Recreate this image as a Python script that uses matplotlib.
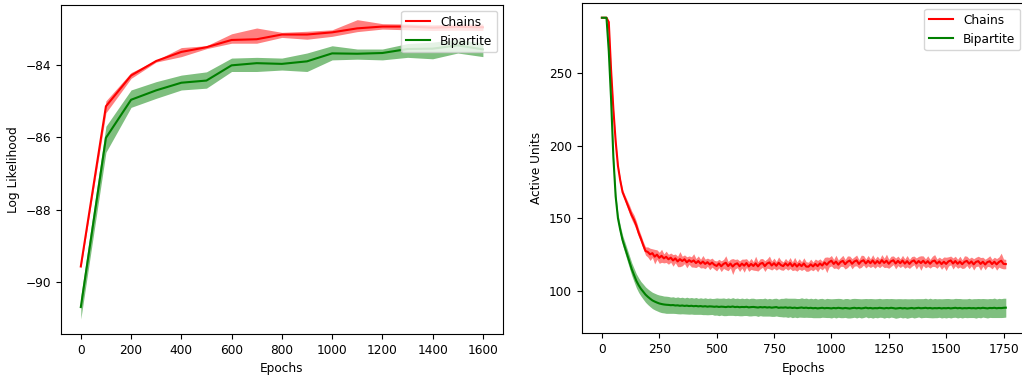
import matplotlib
matplotlib.use("Agg")
import matplotlib.pyplot as plt
import numpy as np

plt.rcParams['font.size'] = 8.7
plt.rcParams['font.family'] = ['DejaVu Sans']

# ---------------- Left panel: log likelihood ----------------
ll_epochs = [0, 100, 200, 300, 400, 500, 600, 700, 800, 900, 1000, 1100, 1200, 1300, 1400, 1500, 1600]

chains_ll = [-89.57, -85.15, -84.30, -83.90, -83.65, -83.52, -83.32, -83.30, -83.17, -83.17,
             -83.11, -83.00, -82.95, -82.95, -82.98, -82.96, -82.97]
chains_ll_hi = [-89.52, -85.00, -84.22, -83.88, -83.53, -83.48, -83.15, -82.99, -83.11, -83.08,
                -83.04, -82.76, -82.87, -82.88, -82.90, -82.88, -82.88]
chains_ll_lo = [-89.62, -85.33, -84.38, -83.93, -83.78, -83.56, -83.41, -83.41, -83.25, -83.30,
                -83.22, -83.09, -83.02, -83.04, -83.06, -83.05, -83.06]

bip_ll = [-90.69, -86.02, -84.97, -84.71, -84.50, -84.44, -84.02, -83.96, -83.98, -83.91,
          -83.69, -83.70, -83.68, -83.57, -83.56, -83.47, -83.58]
bip_ll_hi = [-90.40, -85.70, -84.70, -84.47, -84.29, -84.20, -83.82, -83.80, -83.82, -83.68,
             -83.48, -83.57, -83.57, -83.42, -83.38, -83.30, -83.41]
bip_ll_lo = [-91.02, -86.42, -85.18, -84.93, -84.70, -84.65, -84.19, -84.19, -84.15, -84.19,
             -83.87, -83.85, -83.87, -83.80, -83.84, -83.68, -83.78]

# ---------------- Right panel: active units ----------------
au_epochs = list(range(0, 1770, 10))

chains_au = [
    288, 288, 288, 285, 252, 225, 203, 186, 176, 168,
    164, 160, 156, 152, 149, 145, 140, 136, 131.5, 127.5,
    126.8, 125.2, 126.0, 123.6, 125.0, 122.8, 124.2, 122.4, 123.5, 121.8,
    122.9, 121.0, 122.4, 120.3, 121.9, 120.6, 121.8, 119.7, 121.2, 120.0,
    121.0, 119.2, 120.6, 118.8, 120.2, 118.6, 119.8, 118.2, 119.5, 118.0,
    117.2, 118.9, 117.0, 118.6, 119.4, 117.1, 118.8, 116.8, 118.4, 119.0,
    117.0, 118.8, 117.4, 119.2, 116.9, 118.6, 117.2, 119.0, 116.9, 118.7,
    119.3, 117.1, 118.9, 119.6, 117.5, 119.1, 117.3, 119.4, 117.8, 117.1,
    119.0, 117.4, 119.2, 117.0, 118.8, 116.8, 118.6, 117.1, 118.9, 116.8,
    116.7, 118.3, 116.9, 118.6, 117.1, 118.9, 117.5, 119.6, 118.0, 119.8,
    120.8, 118.6, 120.2, 118.1, 119.9, 120.7, 118.4, 120.1, 120.9, 118.7,
    120.3, 121.0, 118.6, 120.4, 121.1, 118.9, 120.8, 119.1, 121.0, 118.8,
    120.6, 119.0, 121.2, 119.3, 120.8, 118.7, 120.4, 121.1, 118.9, 120.7,
    119.1, 120.9, 118.8, 120.5, 118.6, 120.3, 121.0, 118.9, 120.6, 119.2,
    120.8, 119.0, 120.5, 118.7, 120.4, 120.9, 118.8, 120.3, 118.5, 120.1,
    118.6, 120.3, 121.0, 118.9, 120.6, 118.7, 120.2, 118.4, 120.0, 120.7,
    118.8, 120.3, 118.3, 120.0, 120.5, 118.6, 120.1, 118.2, 119.9, 120.4,
    118.5, 120.1, 118.3, 119.9, 120.8, 118.6, 118.5]

chains_au_sd = [
    0, 0, 0, 0.5, 1.0, 1.0, 1.2, 1.3, 1.5, 1.8,
    2.0, 2.5, 3.0, 3.0, 3.2, 3.0, 2.8, 2.5, 2.5, 2.8,
    3.5, 4.2, 3.0, 5.0, 3.3, 3.8, 4.5, 3.1, 3.9, 3.4,
    3.2, 4.0, 3.0, 3.6, 5.2, 3.3, 3.0, 3.8, 2.9, 3.5,
    4.6, 3.1, 3.5, 3.0, 4.2, 3.3, 2.8, 3.6, 3.1, 3.0,
    3.4, 2.9, 3.7, 3.1, 4.8, 3.2, 3.0, 5.5, 3.3, 3.0,
    3.6, 3.1, 4.5, 3.0, 3.4, 3.8, 2.9, 4.9, 3.2, 3.5,
    3.0, 3.7, 3.2, 4.4, 3.1, 3.5, 3.0, 4.0, 3.3, 2.9,
    3.4, 3.1, 3.8, 3.0, 4.3, 3.2, 3.6, 3.0, 3.9, 3.3,
    3.1, 3.6, 3.0, 3.4, 3.9, 3.2, 3.0, 3.5, 5.4, 3.3,
    3.6, 3.1, 4.4, 3.2, 3.0, 3.8, 3.3, 4.0, 3.1, 3.5,
    3.2, 3.7, 3.0, 4.2, 3.3, 3.1, 3.6, 3.0, 3.9, 3.2,
    3.4, 3.0, 3.8, 3.2, 4.5, 3.1, 3.5, 3.0, 3.7, 3.3,
    3.0, 3.6, 3.2, 3.9, 3.1, 3.4, 3.0, 3.8, 3.2, 5.0,
    3.3, 3.1, 3.7, 3.0, 3.5, 4.1, 3.2, 3.0, 3.6, 3.3,
    4.6, 3.2, 3.0, 3.8, 3.3, 3.1, 3.7, 3.0, 4.2, 3.2,
    3.5, 3.0, 3.9, 3.2, 3.4, 4.4, 3.1, 3.6, 3.0, 3.8,
    3.3, 3.1, 4.0, 3.5, 5.2, 3.4, 3.2]

bip_au = [
    288, 288, 288, 265, 232, 192, 165, 150, 142, 135,
    130, 125, 120, 115, 111, 107, 104, 101.5, 99.5, 97.5,
    96.0, 94.7, 93.5, 92.7, 92.0, 91.4, 91.0, 90.7, 90.5, 90.4,
    90.2, 90.3, 90.0, 90.1, 89.8, 90.0, 89.7, 89.9, 89.6, 89.8,
    89.5, 89.7, 89.4, 89.6, 89.3, 89.5, 89.2, 89.4, 89.3, 89.1,
    89.3, 89.0, 89.2, 89.1, 88.9, 89.2, 89.0, 89.3, 88.9, 89.1,
    88.8, 89.0, 88.9, 89.1, 88.7, 88.9, 89.0, 88.8, 88.6, 88.9,
    88.7, 88.9, 88.6, 88.8, 88.5, 88.7, 88.9, 88.4, 88.6, 88.5,
    88.7, 88.4, 88.6, 88.3, 88.5, 88.2, 88.4, 88.6, 88.3, 88.5,
    88.2, 88.4, 88.1, 88.3, 88.0, 88.2, 88.4, 88.1, 88.3, 88.2,
    88.0, 88.3, 88.1, 88.4, 88.2, 88.0, 88.3, 88.1, 87.9, 88.2,
    88.4, 88.1, 88.3, 88.0, 88.2, 88.5, 88.1, 88.3, 88.0, 88.2,
    88.1, 88.4, 88.2, 88.0, 88.3, 88.1, 88.4, 88.2, 87.9, 88.1,
    88.3, 88.0, 88.2, 87.9, 88.1, 88.3, 88.0, 88.2, 88.4, 88.1,
    88.2, 88.4, 88.1, 88.3, 88.0, 88.2, 88.1, 88.3, 88.0, 88.2,
    88.1, 88.3, 88.0, 88.2, 88.4, 88.1, 88.3, 88.0, 88.2, 88.1,
    88.3, 88.1, 88.2, 88.0, 88.3, 88.1, 88.4, 88.2, 88.0, 88.3,
    88.2, 88.4, 88.1, 88.3, 88.2, 88.4, 88.5]

bip_au_sd = [
    0, 0, 0, 1.0, 1.5, 2.0, 2.5, 3.0, 3.2, 3.5,
    3.8, 4.0, 4.2, 4.4, 4.6, 4.8, 5.0, 5.0, 5.2, 5.3,
    5.4, 5.5, 5.6, 5.7, 5.7, 5.8, 5.9, 5.8, 5.9, 5.8,
    5.6, 5.7, 5.5, 5.8, 5.6, 5.7, 5.5, 5.8, 5.6, 5.7,
    5.6, 5.8, 5.5, 5.7, 5.6, 5.8, 5.6, 5.7, 5.5, 5.8,
    5.9, 6.0, 5.8, 6.1, 5.9, 6.0, 5.8, 6.1, 5.9, 6.0,
    5.9, 6.1, 5.8, 6.0, 5.9, 6.1, 6.0, 5.8, 6.1, 5.9,
    6.0, 6.2, 5.9, 6.1, 6.0, 6.2, 6.1, 6.0, 6.3, 6.4,
    6.5, 6.6, 6.4, 6.7, 6.5, 6.6, 6.4, 6.7, 6.5, 6.6,
    6.4, 6.6, 6.5, 6.7, 6.4, 6.6, 6.5, 6.3, 6.6, 6.5,
    6.6, 6.4, 6.7, 6.5, 6.6, 6.4, 6.5, 6.7, 6.5, 6.6,
    6.5, 6.7, 6.4, 6.6, 6.5, 6.3, 6.6, 6.5, 6.7, 6.4,
    6.6, 6.5, 6.4, 6.7, 6.5, 6.6, 6.4, 6.5, 6.7, 6.6,
    6.4, 6.6, 6.5, 6.7, 6.5, 6.4, 6.6, 6.5, 6.3, 6.6,
    6.5, 6.6, 6.4, 6.7, 6.5, 6.6, 6.5, 6.4, 6.6, 6.5,
    6.7, 6.5, 6.6, 6.4, 6.5, 6.7, 6.5, 6.6, 6.4, 6.5,
    6.6, 6.4, 6.5, 6.7, 6.5, 6.6, 6.4, 6.5, 6.6, 6.5,
    6.5, 6.7, 6.4, 6.6, 6.5, 6.6, 6.5]

series_labels = ["Chains", "Bipartite"]
series_colors = ["red", "green"]

W, H = 1022, 376
fig = plt.figure(figsize=(W / 100, H / 100), dpi=100)

# axes rectangles in pixels (left, top, right, bottom)
def rect(l, t, r, b):
    return [l / W, (H - b) / H, (r - l) / W, (b - t) / H]

ax1 = fig.add_axes(rect(60.7, 4.7, 503, 334))
ax2 = fig.add_axes(rect(581.7, 2.7, 1026, 333.3))

# left panel
ax1.plot(ll_epochs, chains_ll, color=series_colors[0], lw=1.5, label=series_labels[0])
ax1.fill_between(ll_epochs, chains_ll_lo, chains_ll_hi, color=series_colors[0], alpha=0.5, lw=0)
ax1.plot(ll_epochs, bip_ll, color=series_colors[1], lw=1.5, label=series_labels[1])
ax1.fill_between(ll_epochs, bip_ll_lo, bip_ll_hi, color=series_colors[1], alpha=0.5, lw=0)
ax1.set_xlabel("Epochs")
ax1.set_ylabel("Log Likelihood")
ax1.set_yticks([-90, -88, -86, -84])
ax1.set_xticks(range(0, 1601, 200))
ax1.legend(loc="upper right")

# right panel
cm = np.array(chains_au); cs = np.array(chains_au_sd)
bm = np.array(bip_au); bs = np.array(bip_au_sd)
ax2.plot(au_epochs, cm, color=series_colors[0], lw=1.5, label=series_labels[0])
ax2.fill_between(au_epochs, cm - cs, cm + cs, color=series_colors[0], alpha=0.5, lw=0)
ax2.plot(au_epochs, bm, color=series_colors[1], lw=1.5, label=series_labels[1])
ax2.fill_between(au_epochs, bm - bs, bm + bs, color=series_colors[1], alpha=0.5, lw=0)
ax2.set_xlabel("Epochs")
ax2.set_ylabel("Active Units")
ax2.set_yticks([100, 150, 200, 250])
ax2.set_xticks(range(0, 1751, 250))
ax2.legend(loc="upper right")

fig.savefig("out.png", dpi=100)
